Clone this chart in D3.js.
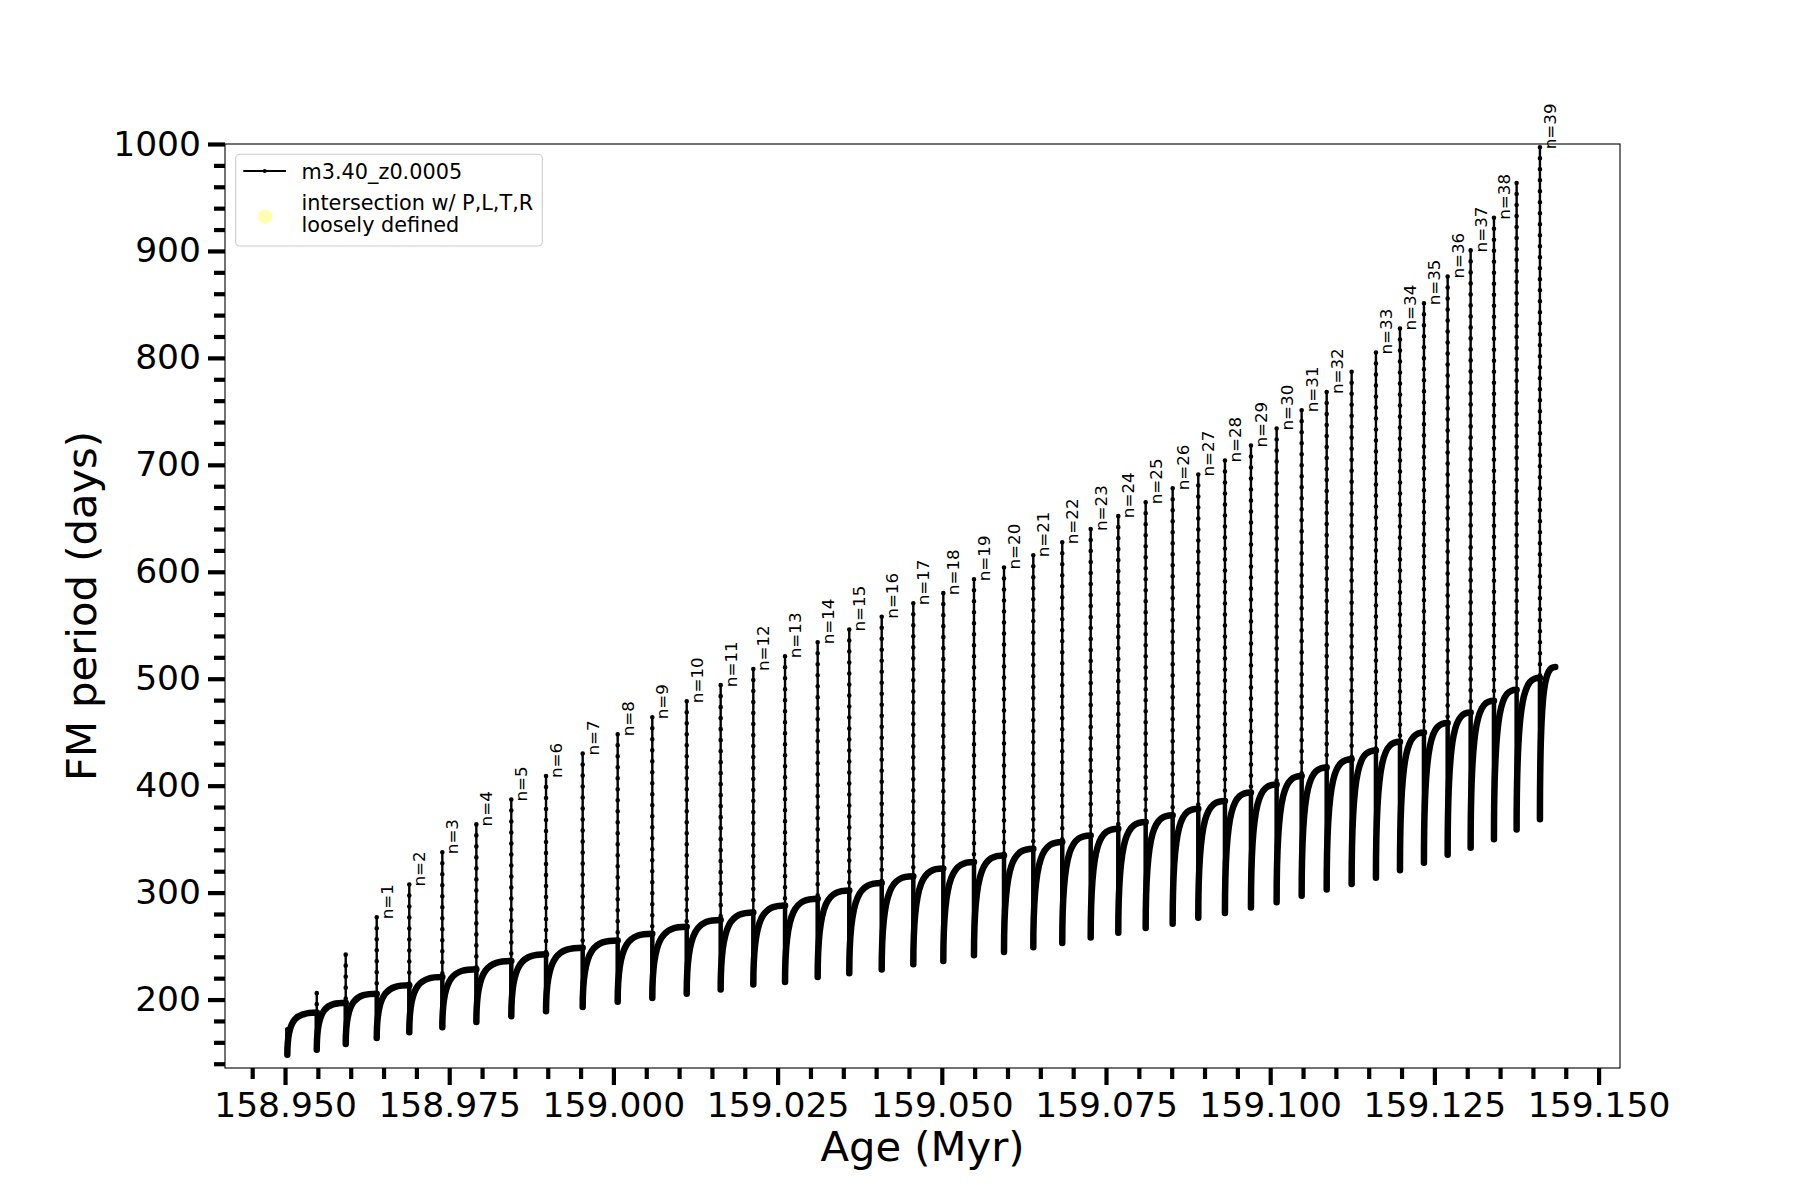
<!DOCTYPE html>
<html>
<head>
<meta charset="utf-8">
<script src="https://cdn.jsdelivr.net/npm/d3@7"></script>
<style>
  body { margin: 0; background: #fff; }
  text { font-family: "DejaVu Sans", sans-serif; }
</style>
</head>
<body>
<svg id="chart" width="1800" height="1200"></svg>
<script>
// ---------------- data ----------------
// ages (Myr) of each pulse / spike (first entry = first model point)
const pulseAges = [158.95035, 158.95483, 158.95924, 158.96396, 158.96892, 158.97395, 158.97913, 158.98445,
  158.98974, 158.99532, 159.00065, 159.00592, 159.01116, 159.01633, 159.02130, 159.02613, 159.03110,
  159.03591, 159.04085, 159.04566, 159.05023, 159.05490, 159.05947, 159.06393, 159.06834, 159.07267,
  159.07687, 159.08104, 159.08515, 159.08905, 159.09311, 159.09707, 159.10098, 159.10479, 159.10860,
  159.11240, 159.11610, 159.11976, 159.12341, 159.12702, 159.13052, 159.13407, 159.13752, 159.14107];
// FM period (days) at the top of each spike
const peakPeriods = [172, 206, 242, 277, 307.6, 337.8, 363.8, 387, 409, 430, 448, 464, 479, 494, 509, 521,
  534, 546, 558, 570.5, 580, 593, 604, 615.4, 627.6, 640, 652, 665, 678, 691, 704, 718, 734, 751, 768,
  787, 805, 827.5, 851, 876, 900.5, 931, 963.5, 997];
// FM period (days) at the dip following each spike
const dipPeriods = [148.5, 153, 158.5, 164, 169.5, 174, 179, 184.5, 189, 193, 198, 201.5, 205.5, 209.5,
  214, 216.5, 221, 224.5, 228, 233, 236, 241.5, 244.5, 249, 253, 258, 262.5, 267, 271, 276.5, 281, 286,
  291, 297, 303, 308, 314, 321, 328, 335.5, 342, 350, 359, 368.5];
// FM period (days) reached at the end of each recovery (just before the next spike / last point)
const plateauPeriods = [187.8, 197, 205.5, 213.3, 221, 228.3, 236, 242.3, 248.5, 255.3, 261.5, 268, 274.5,
  281.5, 288, 294.3, 302, 309, 315.3, 322.5, 328.6, 334.8, 341, 347.3, 353.5, 359.8, 366, 372.3, 378.5,
  385.7, 393.7, 401.2, 409, 417, 424.7, 433, 441, 449.6, 458.7, 468.3, 479.3, 489.8, 501, 511];
const endAge = 159.1434;
const pulseLabels = ["", "", "", "n=1", "n=2", "n=3", "n=4", "n=5", "n=6", "n=7", "n=8", "n=9", "n=10",
  "n=11", "n=12", "n=13", "n=14", "n=15", "n=16", "n=17", "n=18", "n=19", "n=20", "n=21", "n=22", "n=23",
  "n=24", "n=25", "n=26", "n=27", "n=28", "n=29", "n=30", "n=31", "n=32", "", "n=33", "n=34", "n=35",
  "n=36", "n=37", "n=38", "", "n=39"];

const xTickValues = [158.950, 158.975, 159.000, 159.025, 159.050, 159.075, 159.100, 159.125, 159.150];
const yTickValues = [200, 300, 400, 500, 600, 700, 800, 900, 1000];
const seriesName = "m3.40_z0.0005";
const legendText2 = ["intersection w/ P,L,T,R", "loosely defined"];

// ---------------- layout ----------------
const svg = d3.select("#chart");
const L = 225, R = 1620, T = 144, B = 1068;
const x = d3.scaleLinear().domain([158.94086, 159.15326]).range([L, R]);
const y = d3.scaleLinear().domain([136, 1000]).range([B, T]);

svg.append("rect").attr("width", 1800).attr("height", 1200).attr("fill", "#fff");

// ---------------- data marks ----------------
const gData = svg.append("g");
const straight = d3.line().x(d => x(d[0])).y(d => y(d[1]));

// recovery branches (dense markers -> thick band), drawn as a rounded arch from dip to next spike
pulseAges.forEach((a, i) => {
  const next = i < pulseAges.length - 1 ? pulseAges[i + 1] : endAge;
  const dip = dipPeriods[i], plat = plateauPeriods[i];
  const p = d3.path();
  p.moveTo(x(a), y(dip));
  p.bezierCurveTo(x(a), y(dip + 0.9 * (plat - dip)),
                  x(a + 0.35 * (next - a)), y(plat),
                  x(next), y(plat));
  gData.append("path").attr("d", p.toString())
    .attr("fill", "none").attr("stroke", "#000").attr("stroke-width", 6.5)
    .attr("stroke-linecap", "round").attr("stroke-linejoin", "round");
});

// spikes
pulseAges.forEach((a, i) => {
  const base = i === 0 ? peakPeriods[0] : plateauPeriods[i - 1];
  gData.append("path").attr("d", straight([[a, base], [a, peakPeriods[i]], [a, dipPeriods[i]]]))
    .attr("fill", "none").attr("stroke", "#000").attr("stroke-width", 2.4);
  gData.append("path").attr("d", straight([[a, base], [a, dipPeriods[i]]]))
    .attr("fill", "none").attr("stroke", "#000").attr("stroke-width", 4.5).attr("stroke-linecap", "round");
  // marker dots along the spike
  gData.append("path").attr("d", straight([[a, peakPeriods[i]], [a, base]]))
    .attr("fill", "none").attr("stroke", "#000").attr("stroke-width", 4.6)
    .attr("stroke-linecap", "round").attr("stroke-dasharray", "0 11");
});

// spike labels
pulseAges.forEach((a, i) => {
  if (!pulseLabels[i]) return;
  svg.append("text")
    .attr("transform", `translate(${x(a) + 16},${y(peakPeriods[i]) + 2}) rotate(-90)`)
    .attr("font-size", 16.7).attr("fill", "#000").attr("text-anchor", "start")
    .text(pulseLabels[i]);
});

// ---------------- axes ----------------
const xMinor = d3.range(0, 43).map(i => 158.945 + i * 0.005)
  .filter(v => v <= 159.1533 && Math.abs(((v - 158.95) / 0.025) - Math.round((v - 158.95) / 0.025)) > 1e-6);
const yMinor = d3.range(0, 44).map(i => 140 + i * 20).filter(v => v <= 1000 && v % 100 !== 0);

function styleAxis(g, fs) {
  g.select(".domain").remove();
  g.selectAll(".tick line").attr("stroke", "#000").attr("stroke-width", 4.2);
  g.selectAll(".tick text").attr("font-size", fs).attr("fill", "#000")
    .attr("font-family", "DejaVu Sans, sans-serif");
}

const gxMinor = svg.append("g").attr("transform", `translate(0,${B})`)
  .call(d3.axisBottom(x).tickValues(xMinor).tickSize(11).tickFormat(""));
styleAxis(gxMinor, 0);
const gx = svg.append("g").attr("transform", `translate(0,${B})`)
  .call(d3.axisBottom(x).tickValues(xTickValues).tickSize(17).tickPadding(8).tickFormat(d3.format(".3f")));
styleAxis(gx, 34.5);

const gyMinor = svg.append("g").attr("transform", `translate(${L},0)`)
  .call(d3.axisLeft(y).tickValues(yMinor).tickSize(11).tickFormat(""));
styleAxis(gyMinor, 0);
const gy = svg.append("g").attr("transform", `translate(${L},0)`)
  .call(d3.axisLeft(y).tickValues(yTickValues).tickSize(17).tickPadding(7).tickFormat(d3.format("d")));
styleAxis(gy, 34.5);

// frame
svg.append("rect").attr("x", L).attr("y", T).attr("width", R - L).attr("height", B - T)
  .attr("fill", "none").attr("stroke", "#000").attr("stroke-width", 1.1);

// axis titles
svg.append("text").attr("x", (L + R) / 2).attr("y", 1161).attr("text-anchor", "middle")
  .attr("font-size", 41.7).attr("fill", "#000").text("Age (Myr)");
svg.append("text").attr("transform", `translate(96,${(T + B) / 2}) rotate(-90)`)
  .attr("text-anchor", "middle").attr("font-size", 41.7).attr("fill", "#000").text("FM period (days)");

// ---------------- legend ----------------
const lg = svg.append("g");
lg.append("rect").attr("x", 235.7).attr("y", 154.3).attr("width", 306.6).attr("height", 91.7)
  .attr("rx", 4).attr("fill", "#fff").attr("fill-opacity", 0.8).attr("stroke", "#cccccc").attr("stroke-width", 1.1);
lg.append("line").attr("x1", 243.3).attr("x2", 286).attr("y1", 171).attr("y2", 171)
  .attr("stroke", "#000").attr("stroke-width", 2);
lg.append("circle").attr("cx", 264.7).attr("cy", 171).attr("r", 2).attr("fill", "#000");
lg.append("text").attr("x", 301.5).attr("y", 179.3).attr("font-size", 20.8).attr("fill", "#000").text(seriesName);
lg.append("circle").attr("cx", 265).attr("cy", 216.7).attr("r", 7.3).attr("fill", "#ffff00").attr("fill-opacity", 0.3);
lg.append("text").attr("x", 301.5).attr("y", 210).attr("font-size", 20.8).attr("fill", "#000").text(legendText2[0]);
lg.append("text").attr("x", 301.5).attr("y", 232.3).attr("font-size", 20.8).attr("fill", "#000").text(legendText2[1]);
</script>
</body>
</html>
